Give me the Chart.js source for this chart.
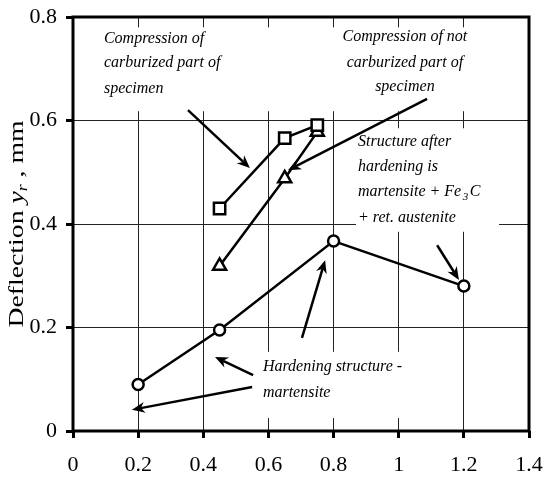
<!DOCTYPE html>
<html lang="en">
<head>
<meta charset="UTF-8" />
<title>Deflection chart</title>
<script src="https://cdn.jsdelivr.net/npm/chart.js"></script>
<style>
  html, body { margin: 0; padding: 0; background: #fff; }
  #wrap { width: 544px; height: 479px; }
</style>
</head>
<body>
<div id="wrap"><canvas id="chart" width="544" height="479"></canvas></div>
<script>
  // tick labels
  const xTickLabels = ['0', '0.2', '0.4', '0.6', '0.8', '1', '1.2', '1.4'];
  const yTickLabels = ['0', '0.2', '0.4', '0.6', '0.8'];

  // compression of carburized part (squares)
  const carbX = [0.45, 0.65, 0.75];
  const carbY = [0.43, 0.566, 0.591];
  // compression of not carburized part (triangles)
  const notCarbX = [0.45, 0.65, 0.75];
  const notCarbY = [0.319, 0.488, 0.578];
  // hardening (circles)
  const hardX = [0.2, 0.45, 0.8, 1.2];
  const hardY = [0.09, 0.195, 0.367, 0.28];

  // annotation texts, anchored in data units
  const noteCarb = ['Compression of', 'carburized part of', 'specimen'];
  const noteNotCarb = ['Compression of not', 'carburized part of', 'specimen'];
  const noteStructure = ['Structure after', 'hardening is', 'martensite + Fe|3|C', '+ ret. austenite'];
  const noteHard = ['Hardening structure -', 'martensite'];

  // arrows: [fromX, fromY, toX, toY] in data units
  const arrows = [
    [0.353, 0.620, 0.543, 0.508],
    [1.087, 0.642, 0.660, 0.504],
    [1.118, 0.359, 1.185, 0.292],
    [0.703, 0.180, 0.774, 0.330],
    [0.553, 0.108, 0.436, 0.143],
    [0.550, 0.085, 0.181, 0.041]
  ];

  // white boxes behind the notes: [x1, y1, x2, y2] in data units
  const noteBoxes = [
    [0.006, 0.780, 1.394, 0.618],
    [0.869, 0.585, 1.308, 0.385],
    [0.589, 0.153, 1.050, 0.025]
  ];

  const toPoints = (xs, ys) => xs.map((x, i) => ({ x: x, y: ys[i] }));

  const serif = "'Liberation Serif', 'Times New Roman', serif";
  Chart.defaults.font.family = serif;
  Chart.defaults.color = '#000';

  function drawArrow(ctx, x1, y1, x2, y2) {
    const ang = Math.atan2(y2 - y1, x2 - x1);
    const len = 13, half = 5.5, notch = 9;
    ctx.save();
    ctx.strokeStyle = '#000';
    ctx.fillStyle = '#000';
    ctx.lineWidth = 2.5;
    ctx.beginPath();
    ctx.moveTo(x1, y1);
    ctx.lineTo(x2 - Math.cos(ang) * notch, y2 - Math.sin(ang) * notch);
    ctx.stroke();
    ctx.translate(x2, y2);
    ctx.rotate(ang);
    ctx.beginPath();
    ctx.moveTo(0, 0);
    ctx.lineTo(-len, -half);
    ctx.lineTo(-notch, 0);
    ctx.lineTo(-len, half);
    ctx.closePath();
    ctx.fill();
    ctx.restore();
  }

  // draws a line where |3| means a subscript
  function drawRich(ctx, text, x, y, align) {
    const parts = text.split('|');
    const big = 'italic 16px ' + serif, small = 'italic 11px ' + serif;
    let total = 0;
    parts.forEach((p, i) => {
      ctx.font = i % 2 ? small : big;
      total += ctx.measureText(p).width + (i % 2 ? 3 : 0);
    });
    let cx = align === 'center' ? x - total / 2 : x;
    parts.forEach((p, i) => {
      ctx.font = i % 2 ? small : big;
      if (i % 2) {
        ctx.fillText(p, cx + 1.5, y + 5);
        cx += ctx.measureText(p).width + 3;
      } else {
        ctx.fillText(p, cx, y);
        cx += ctx.measureText(p).width;
      }
    });
  }

  const notesPlugin = {
    id: 'notes',
    beforeDatasetsDraw(chart) {
      const { ctx, scales: { x, y } } = chart;
      ctx.save();
      ctx.fillStyle = '#fff';
      noteBoxes.forEach(b => {
        const px1 = x.getPixelForValue(b[0]), py1 = y.getPixelForValue(b[1]);
        const px2 = x.getPixelForValue(b[2]), py2 = y.getPixelForValue(b[3]);
        ctx.fillRect(px1, py1, px2 - px1, py2 - py1);
      });
      ctx.restore();
    },
    afterDatasetsDraw(chart) {
      const { ctx, scales: { x, y } } = chart;
      arrows.forEach(a => drawArrow(ctx,
        x.getPixelForValue(a[0]), y.getPixelForValue(a[1]),
        x.getPixelForValue(a[2]), y.getPixelForValue(a[3])));

      ctx.save();
      ctx.fillStyle = '#000';
      ctx.textBaseline = 'middle';
      const block = (lines, ax, ys, align) => {
        lines.forEach((t, i) => drawRich(ctx, t, x.getPixelForValue(ax), y.getPixelForValue(ys[i]), align));
      };
      block(noteCarb, 0.095, [0.757, 0.711, 0.661], 'left');
      block(noteNotCarb, 1.019, [0.761, 0.711, 0.665], 'center');
      block(noteStructure, 0.875, [0.558, 0.510, 0.462, 0.412], 'left');
      block(noteHard, 0.583, [0.124, 0.073], 'left');
      ctx.restore();
    },
    afterDraw(chart) {
      const { ctx, chartArea: a } = chart;
      ctx.save();
      // frame
      ctx.strokeStyle = '#000';
      ctx.lineWidth = 3;
      ctx.strokeRect(a.left, a.top, a.right - a.left, a.bottom - a.top);

      // y axis title with italic subscript
      const segs = [
        { t: 'Deflection ', f: '22px ' + serif, dy: 0 },
        { t: 'y', f: 'italic 22px ' + serif, dy: 0 },
        { t: 'r', f: 'italic 14px ' + serif, dy: 6 },
        { t: ' , mm', f: '22px ' + serif, dy: 0 }
      ];
      let total = 0;
      segs.forEach(s => { ctx.font = s.f; total += ctx.measureText(s.t).width; });
      ctx.translate(17, (a.top + a.bottom) / 2);
      ctx.rotate(-Math.PI / 2);
      ctx.scale(207 / total, 1);
      ctx.fillStyle = '#000';
      ctx.textBaseline = 'middle';
      let cx = -total / 2;
      segs.forEach(s => {
        ctx.font = s.f;
        ctx.fillText(s.t, cx, s.dy);
        cx += ctx.measureText(s.t).width;
      });
      ctx.restore();
    }
  };

  const lineStyle = {
    borderColor: '#000',
    borderWidth: 2.5,
    pointBackgroundColor: '#fff',
    pointBorderColor: '#000',
    pointBorderWidth: 2.5,
    tension: 0,
    fill: false
  };

  new Chart(document.getElementById('chart'), {
    type: 'line',
    data: {
      datasets: [
        Object.assign({ label: 'Carburized', data: toPoints(carbX, carbY), pointStyle: 'rect', pointRadius: 8 }, lineStyle),
        Object.assign({ label: 'Not carburized', data: toPoints(notCarbX, notCarbY), pointStyle: 'triangle', pointRadius: 7.5 }, lineStyle),
        Object.assign({ label: 'Hardening', data: toPoints(hardX, hardY), pointStyle: 'circle', pointRadius: 5.5 }, lineStyle)
      ]
    },
    options: {
      responsive: false,
      animation: false,
      layout: { padding: { left: 0, top: 17, right: 15, bottom: 0 } },
      plugins: {
        legend: { display: false },
        tooltip: { enabled: false }
      },
      scales: {
        x: {
          type: 'linear',
          min: 0,
          max: 1.4,
          afterFit(scale) {
            scale.height = 48;
            scale.paddingLeft = 0;
            scale.paddingRight = 0;
          },
          afterBuildTicks(scale) {
            scale.ticks = xTickLabels.map(v => ({ value: parseFloat(v) }));
          },
          ticks: {
            callback: (v, i) => xTickLabels[i],
            font: { size: 22 },
            padding: 14,
            maxRotation: 0,
            autoSkip: false
          },
          grid: { color: '#222', lineWidth: 1, drawTicks: true, tickLength: 7, tickWidth: 3, tickColor: '#000' },
          border: { display: false }
        },
        y: {
          type: 'linear',
          min: 0,
          max: 0.8,
          afterFit(scale) {
            scale.width = 73;
            scale.paddingTop = 0;
            scale.paddingBottom = 0;
          },
          afterBuildTicks(scale) {
            scale.ticks = yTickLabels.map(v => ({ value: parseFloat(v) }));
          },
          ticks: {
            callback: (v, i) => yTickLabels[i],
            font: { size: 22 },
            padding: 9
          },
          grid: { color: '#222', lineWidth: 1, drawTicks: true, tickLength: 7, tickWidth: 3, tickColor: '#000' },
          border: { display: false }
        }
      }
    },
    plugins: [notesPlugin]
  });
</script>
</body>
</html>
